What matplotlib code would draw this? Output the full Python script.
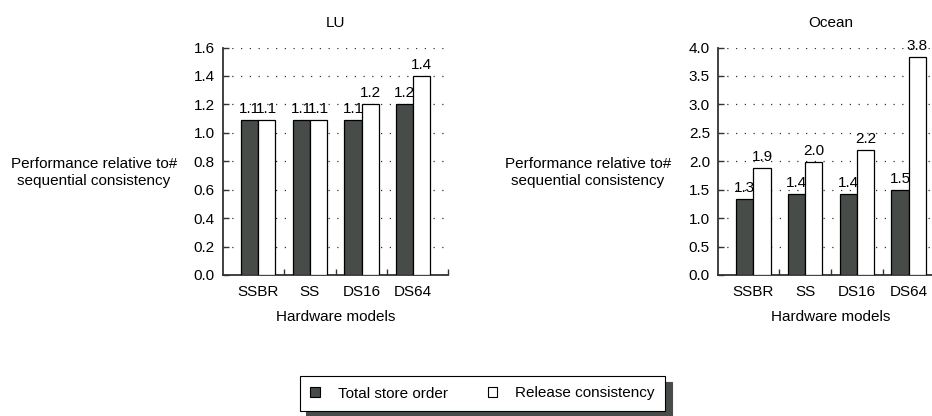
import matplotlib
matplotlib.use("Agg")
import matplotlib.pyplot as plt
from matplotlib.patches import Patch
import numpy as np

plt.rcParams['font.family'] = ['Liberation Sans', 'DejaVu Sans']

categories = ["SSBR", "SS", "DS16", "DS64"]
lu_tso = [1.09, 1.09, 1.09, 1.20]
lu_rc = [1.09, 1.09, 1.20, 1.40]
ocean_tso = [1.33, 1.42, 1.42, 1.50]
ocean_rc = [1.88, 1.99, 2.19, 3.83]
series_names = ["Total store order", "Release consistency"]
lu_yticks = [0.0, 0.2, 0.4, 0.6, 0.8, 1.0, 1.2, 1.4, 1.6]
ocean_yticks = [0.0, 0.5, 1.0, 1.5, 2.0, 2.5, 3.0, 3.5, 4.0]

DARK = '#474c48'
FS = 11
W, H = 932, 416
fig = plt.figure(figsize=(W / 100, H / 100), dpi=100)

def make_panel(left_px, title, tso, rc, yticks):
    ax = fig.add_axes([left_px / W, (H - 275) / H, 225.4 / W, 227.5 / H])
    x = np.arange(len(categories))
    bw = 0.333
    b1 = ax.bar(x - bw / 2, tso, bw, color=DARK, edgecolor='black', linewidth=0.9, zorder=3)
    b2 = ax.bar(x + bw / 2, rc, bw, color='white', edgecolor='black', linewidth=0.9, zorder=3)
    ax.bar_label(b1, fmt='%.1f', padding=3, fontsize=FS)
    ax.bar_label(b2, fmt='%.1f', padding=3, fontsize=FS)
    ax.set_xlim(-0.68, 3.68)
    ax.set_ylim(yticks[0], yticks[-1])
    ax.set_yticks(yticks)
    ax.set_yticklabels([f"{v:.1f}" for v in yticks], fontsize=FS)
    ax.set_xticks(x)
    ax.set_xticklabels(categories, fontsize=FS)
    ax.set_xticks([0.5, 1.5, 2.5, 3.68], minor=True)
    ax.tick_params(axis='x', which='major', length=0, pad=7)
    ax.tick_params(axis='x', which='minor', direction='in', length=4, width=1, color='#333333')
    ax.tick_params(axis='y', direction='in', length=4, width=1, color='#333333', pad=6)
    for s in ['top', 'right']:
        ax.spines[s].set_visible(False)
    for s in ['left', 'bottom']:
        ax.spines[s].set_linewidth(1.3)
        ax.spines[s].set_color('#333333')
    ax.set_axisbelow(True)
    ax.yaxis.grid(True, linestyle=(0, (1, 6)), linewidth=0.9, color='#333333')
    ax.set_title(title, fontsize=FS, pad=15)
    ax.set_xlabel("Hardware models", fontsize=FS, labelpad=8)
    return ax

make_panel(223, "LU", lu_tso, lu_rc, lu_yticks)
make_panel(718.3, "Ocean", ocean_tso, ocean_rc, ocean_yticks)

ylab = "Performance relative to#\nsequential consistency"
fig.text(94 / W, 1 - 172.5 / H, ylab, ha='center', va='center', fontsize=FS,
         multialignment='center', linespacing=1.35)
fig.text(588 / W, 1 - 172.5 / H, ylab, ha='center', va='center', fontsize=FS,
         multialignment='center', linespacing=1.35)

handles = [Patch(facecolor=DARK, edgecolor='black', linewidth=0.8),
           Patch(facecolor='white', edgecolor='black', linewidth=0.8)]
leg = fig.legend(handles, series_names, loc='center', bbox_to_anchor=(482.5 / W, 1 - 393.5 / H),
                 ncol=2, fontsize=FS, frameon=True, fancybox=False,
                 handlelength=0.6, handleheight=0.6, handletextpad=1.2, columnspacing=2.6,
                 borderpad=0.7, borderaxespad=0,
                 shadow={'ox': 4.5, 'oy': -4.5, 'facecolor': DARK, 'alpha': 1})
leg.get_frame().set_edgecolor('black')
leg.get_frame().set_linewidth(0.8)

fig.savefig("out.png", dpi=100)
